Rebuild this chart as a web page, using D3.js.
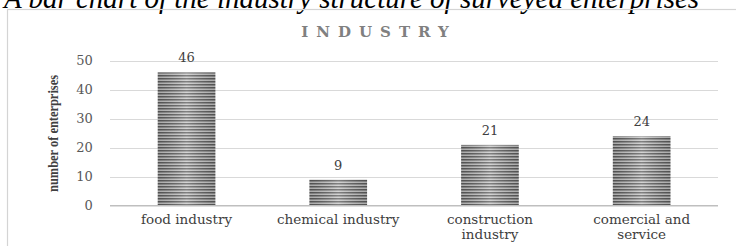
<!DOCTYPE html>
<html>
<head>
<meta charset="utf-8">
<script src="https://cdn.jsdelivr.net/npm/d3@7"></script>
<style>
  html, body { margin: 0; padding: 0; background: #fff; overflow: hidden; }
  svg { display: block; }
</style>
</head>
<body>
<svg id="chart" width="736" height="246"></svg>
<script>
// ---- data ----
const categories = ["food industry", "chemical industry", "construction industry", "comercial and service"];
const values = [46, 9, 21, 24];
const yTicks = [0, 10, 20, 30, 40, 50];
const captionText = "A bar chart of the industry structure of surveyed enterprises";
const chartTitle = "INDUSTRY";
const yAxisLabel = "number of enterprises";

// ---- layout ----
const plot = { left: 110.7, right: 717.5, top: 60.8, bottom: 205.8 };
const svg = d3.select("#chart");
const defs = svg.append("defs");

// striped pattern for bars
const pat = defs.append("pattern")
  .attr("id", "stripes").attr("patternUnits", "userSpaceOnUse")
  .attr("width", 8).attr("height", 3);
pat.append("rect").attr("width", 8).attr("height", 3).attr("fill", "#c8c8c8");
pat.append("rect").attr("y", 0).attr("width", 8).attr("height", 1).attr("fill", "#5e5e5e");
pat.append("rect").attr("y", 1).attr("width", 8).attr("height", 1).attr("fill", "#939393");

const grad = defs.append("linearGradient").attr("id", "shade")
  .attr("x1", "0%").attr("x2", "100%").attr("y1", "0%").attr("y2", "0%");
grad.append("stop").attr("offset", "0%").attr("stop-color", "#000").attr("stop-opacity", 0.15);
grad.append("stop").attr("offset", "50%").attr("stop-color", "#fff").attr("stop-opacity", 0.22);
grad.append("stop").attr("offset", "100%").attr("stop-color", "#000").attr("stop-opacity", 0.15);

// caption (partially cut at top, as in the reference)
svg.append("text")
  .attr("x", 4).attr("y", 8)
  .attr("font-family", "'Liberation Serif', serif")
  .attr("font-style", "italic")
  .attr("font-size", 29)
  .attr("fill", "#000")
  .text(captionText);

// frame
svg.append("rect")
  .attr("x", 7.5).attr("y", 9.5).attr("width", 760).attr("height", 260)
  .attr("fill", "none").attr("stroke", "#d4d4d4").attr("stroke-width", 1.2);

// chart title
svg.append("text")
  .attr("x", 375 + 4).attr("y", 37)
  .attr("text-anchor", "middle")
  .attr("font-family", "'DejaVu Serif', serif")
  .attr("font-weight", "bold")
  .attr("font-size", 15)
  .attr("letter-spacing", 8)
  .attr("fill", "#808080")
  .text(chartTitle);

// scales
const x = d3.scaleBand().domain(categories)
  .range([plot.left, plot.right]).paddingInner(0.62).paddingOuter(0.31);
const y = d3.scaleLinear().domain([0, 50]).range([plot.bottom, plot.top]);

// gridlines
svg.append("g").selectAll("line").data(yTicks.filter(d => d > 0)).join("line")
  .attr("x1", plot.left - 0.7).attr("x2", plot.right + 0.5)
  .attr("y1", d => Math.round(y(d)) + 0.5).attr("y2", d => Math.round(y(d)) + 0.5)
  .attr("stroke", "#d9d9d9").attr("stroke-width", 1);

// y axis
const yAxis = svg.append("g")
  .attr("transform", `translate(${plot.left},0)`)
  .call(d3.axisLeft(y).tickValues(yTicks).tickSize(0).tickPadding(18).tickFormat(d3.format("d")));
yAxis.select(".domain").remove();
yAxis.selectAll("text")
  .attr("font-family", "'DejaVu Serif', serif")
  .attr("font-size", 13)
  .attr("fill", "#595959");

// bars
const bars = svg.append("g");
bars.selectAll("rect.bar").data(values).join("rect")
  .attr("class", "bar")
  .attr("x", (d, i) => x(categories[i]))
  .attr("y", d => y(d))
  .attr("width", x.bandwidth())
  .attr("height", d => y(0) - y(d))
  .attr("fill", "url(#stripes)");
bars.selectAll("rect.shade").data(values).join("rect")
  .attr("class", "shade")
  .attr("x", (d, i) => x(categories[i]))
  .attr("y", d => y(d))
  .attr("width", x.bandwidth())
  .attr("height", d => y(0) - y(d))
  .attr("fill", "url(#shade)");

// baseline
svg.append("line")
  .attr("x1", plot.left - 0.7).attr("x2", plot.right + 0.5)
  .attr("y1", y(0)).attr("y2", y(0))
  .attr("stroke", "#bfbfbf").attr("stroke-width", 1.5);

// value labels
svg.append("g").selectAll("text").data(values).join("text")
  .attr("x", (d, i) => x(categories[i]) + x.bandwidth() / 2)
  .attr("y", d => y(d) - 10)
  .attr("text-anchor", "middle")
  .attr("font-family", "'DejaVu Serif', serif")
  .attr("font-size", 13)
  .attr("fill", "#404040")
  .text(d => d);

// category labels with wrapping
const catG = svg.append("g");
categories.forEach((c, i) => {
  const cx = x(c) + x.bandwidth() / 2;
  const t = catG.append("text")
    .attr("x", cx)
    .attr("y", 224)
    .attr("text-anchor", "middle")
    .attr("font-family", "'DejaVu Serif', serif")
    .attr("font-size", 13.5)
    .attr("fill", "#404040");
  const words = c.split(" ");
  let lines = [], cur = [];
  const probe = t.append("tspan");
  words.forEach(w => {
    const test = cur.concat([w]).join(" ");
    probe.text(test);
    if (probe.node().getComputedTextLength() > 140 && cur.length) {
      lines.push(cur.join(" "));
      cur = [w];
    } else cur.push(w);
  });
  lines.push(cur.join(" "));
  probe.remove();
  lines.forEach((l, k) => {
    t.append("tspan").attr("x", cx)
      .attr("dy", k === 0 ? 0 : 14.5).text(l);
  });
});

// y axis title
svg.append("text")
  .attr("transform", "translate(58,133.5) rotate(-90)")
  .attr("text-anchor", "middle")
  .attr("font-family", "'Liberation Serif', serif")
  .attr("font-weight", "bold")
  .attr("font-size", 15)
  .attr("textLength", 117)
  .attr("lengthAdjust", "spacingAndGlyphs")
  .attr("fill", "#404040")
  .text(yAxisLabel);
</script>
</body>
</html>
